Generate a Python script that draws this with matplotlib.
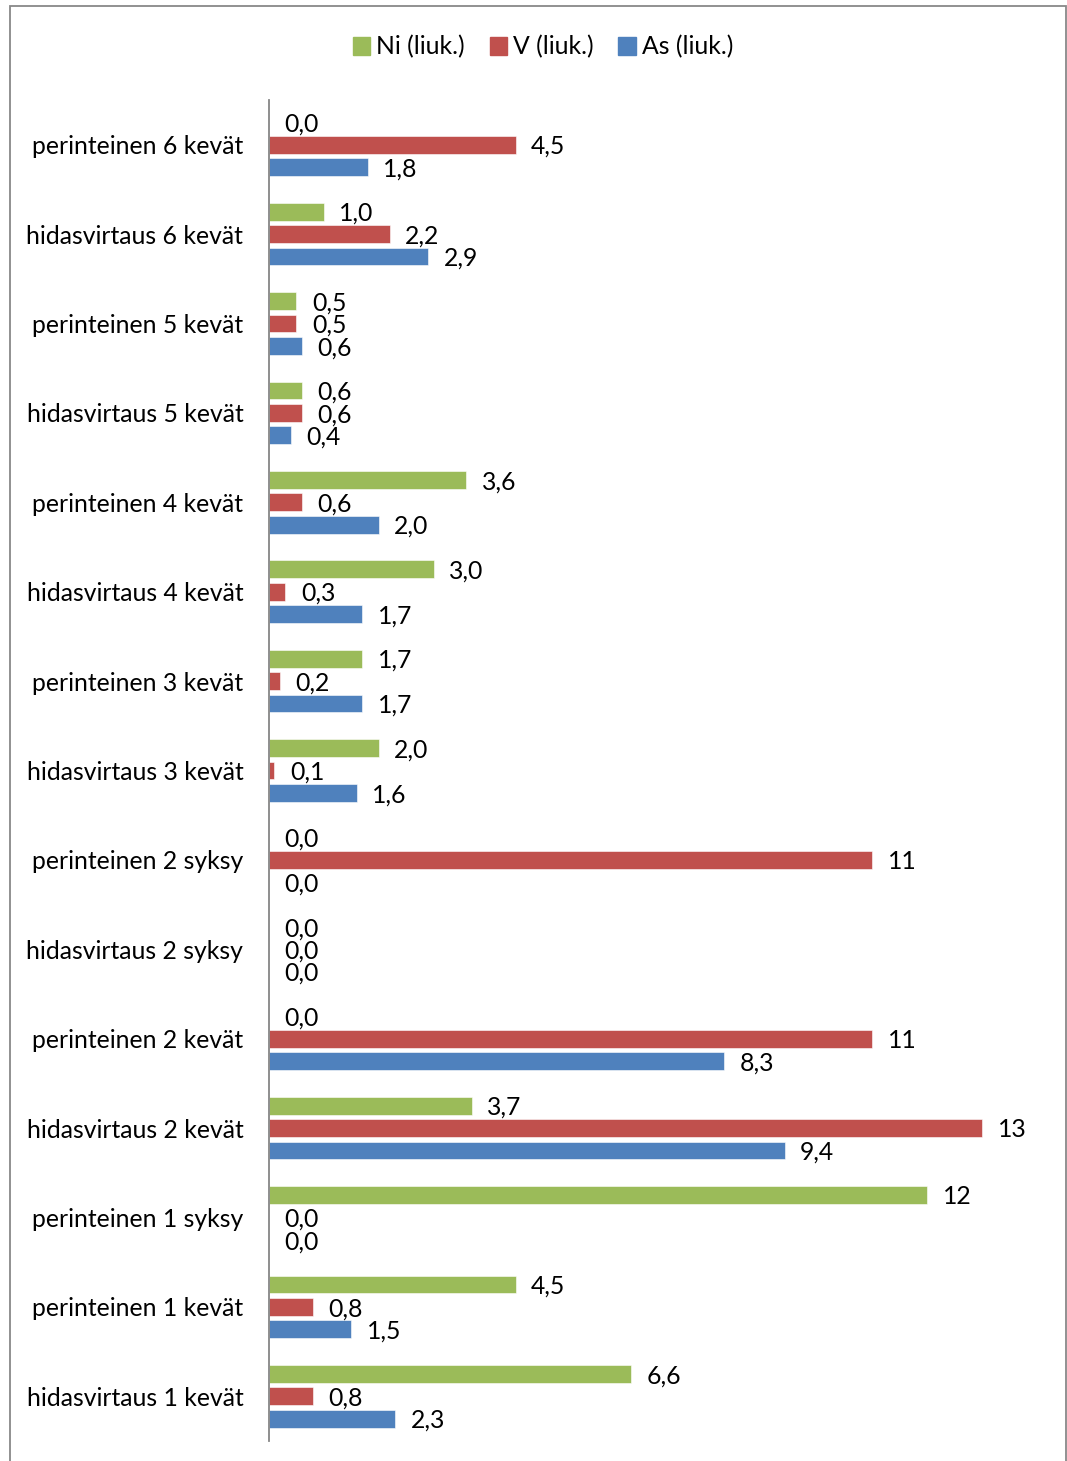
import matplotlib
matplotlib.use('Agg')
import matplotlib.pyplot as plt
from matplotlib.patches import Rectangle
import numpy as np

plt.rcParams['font.family'] = ['Lato', 'DejaVu Sans']

# Sample sites, top to bottom
categories = [
    'perinteinen 6 kevät', 'hidasvirtaus 6 kevät',
    'perinteinen 5 kevät', 'hidasvirtaus 5 kevät',
    'perinteinen 4 kevät', 'hidasvirtaus 4 kevät',
    'perinteinen 3 kevät', 'hidasvirtaus 3 kevät',
    'perinteinen 2 syksy', 'hidasvirtaus 2 syksy',
    'perinteinen 2 kevät', 'hidasvirtaus 2 kevät',
    'perinteinen 1 syksy', 'perinteinen 1 kevät',
    'hidasvirtaus 1 kevät',
]

ni = [0.0, 1.0, 0.5, 0.6, 3.6, 3.0, 1.7, 2.0, 0.0, 0.0, 0.0, 3.7, 12, 4.5, 6.6]
v = [4.5, 2.2, 0.5, 0.6, 0.6, 0.3, 0.2, 0.1, 11, 0.0, 11, 13, 0.0, 0.8, 0.8]
as_ = [1.8, 2.9, 0.6, 0.4, 2.0, 1.7, 1.7, 1.6, 0.0, 0.0, 8.3, 9.4, 0.0, 1.5, 2.3]

series = [
    ('Ni (liuk.)', ni, '#9BBB59'),
    ('V (liuk.)', v, '#C0504D'),
    ('As (liuk.)', as_, '#4F81BD'),
]

FS = 17.8


def fmt(val):
    # two significant digits, decimal comma
    if val >= 10:
        return f'{val:.0f}'
    return f'{val:.1f}'.replace('.', ',')


fig = plt.figure(figsize=(10.67, 14.61), dpi=100)
ax = fig.add_axes([269 / 1067, 1 - 1441 / 1461, (1037 - 269) / 1067, 1341 / 1461])

n = len(categories)
y = np.arange(n)
pitch = 0.25
height = 0.2

for i, (name, vals, color) in enumerate(series):
    pos = y + (i - 1) * pitch
    ax.barh(pos, vals, height=height, color=color, label=name,
            edgecolor='white', linewidth=0.4)
    for p, val in zip(pos, vals):
        ax.text(val + 0.28, p + 0.02, fmt(val), va='center', ha='left',
                fontsize=FS, color='black')

ax.set_ylim(n - 0.5, -0.5)
ax.set_xlim(0, 14)
ax.set_yticks(y)
ax.set_yticklabels(categories, fontsize=FS)
ax.tick_params(axis='y', length=0, pad=18.5)
ax.set_xticks([])
for side in ['top', 'right', 'bottom']:
    ax.spines[side].set_visible(False)
ax.spines['left'].set_color('#868686')
ax.spines['left'].set_linewidth(1.3)

handles = [Rectangle((0, 0), 1, 1, color=c) for _, _, c in series]
fig.legend(handles, [s[0] for s in series], loc='center',
           bbox_to_anchor=(543 / 1067, 1 - 47 / 1461), ncol=3, frameon=False,
           fontsize=FS, handlelength=0.7, handleheight=0.7,
           handletextpad=0.25, columnspacing=1.0)

# chart area frame
fig.add_artist(Rectangle((10 / 1067, -0.01), (1066 - 10) / 1067, 1 - 6 / 1461 + 0.01,
                         transform=fig.transFigure, fill=False,
                         edgecolor='#888888', linewidth=1.3))

fig.savefig('out.png', dpi=100)
